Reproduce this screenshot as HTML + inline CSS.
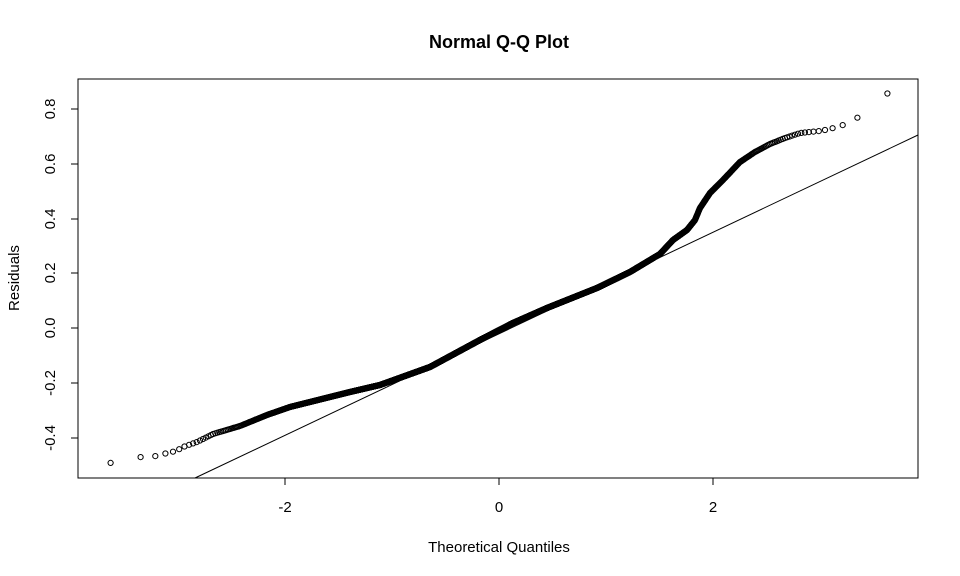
<!DOCTYPE html>
<html><head><meta charset="utf-8"><style>
html,body{margin:0;padding:0;background:#fff;}
svg{display:block;font-family:"Liberation Sans",Arial,sans-serif;}
</style></head><body>
<svg id="s" width="960" height="576" xmlns="http://www.w3.org/2000/svg">
<rect width="960" height="576" fill="#fff"/>
<text x="499" y="48" text-anchor="middle" font-size="18" font-weight="bold">Normal Q-Q Plot</text>
<rect x="78" y="79" width="840" height="399" fill="none" stroke="#000" stroke-width="1"/>
<g stroke="#000">
<line x1="285" y1="478" x2="285" y2="485"/><line x1="499" y1="478" x2="499" y2="485"/><line x1="713" y1="478" x2="713" y2="485"/>
<line x1="71" y1="109" x2="78" y2="109"/><line x1="71" y1="164" x2="78" y2="164"/><line x1="71" y1="219" x2="78" y2="219"/><line x1="71" y1="273" x2="78" y2="273"/><line x1="71" y1="328" x2="78" y2="328"/><line x1="71" y1="383" x2="78" y2="383"/><line x1="71" y1="438" x2="78" y2="438"/>
</g>
<g font-size="15" text-anchor="middle">
<text x="285" y="512">-2</text><text x="499" y="512">0</text><text x="713" y="512">2</text>
<text x="499" y="552">Theoretical Quantiles</text>
<text transform="translate(19,278) rotate(-90)">Residuals</text>
<text transform="translate(55,109) rotate(-90)">0.8</text>
<text transform="translate(55,164) rotate(-90)">0.6</text>
<text transform="translate(55,219) rotate(-90)">0.4</text>
<text transform="translate(55,273) rotate(-90)">0.2</text>
<text transform="translate(55,328) rotate(-90)">0.0</text>
<text transform="translate(55,383) rotate(-90)">-0.2</text>
<text transform="translate(55,438) rotate(-90)">-0.4</text>
</g>
<line x1="195" y1="478" x2="918" y2="135" stroke="#000" stroke-width="1"/>
<g id="pts" fill="none" stroke="#000" stroke-width="1"></g>
</svg>
<script>
function qnorm(p){var a=[-39.69683028665376,220.9460984245205,-275.9285104469687,138.357751867269,-30.66479806614716,2.506628277459239],b=[-54.47609879822406,161.5858368580409,-155.6989798598866,66.80131188771972,-13.28068155288572],c=[-0.007784894002430293,-0.3223964580411365,-2.400758277161838,-2.549732539343734,4.374664141464968,2.938163982698783],d=[0.007784695709041462,0.3224671290700398,2.445134137142996,3.754408661907416],pl=0.02425,q,r;
if(p<pl){q=Math.sqrt(-2*Math.log(p));return(((((c[0]*q+c[1])*q+c[2])*q+c[3])*q+c[4])*q+c[5])/((((d[0]*q+d[1])*q+d[2])*q+d[3])*q+1);}
if(p>1-pl){q=Math.sqrt(-2*Math.log(1-p));return-(((((c[0]*q+c[1])*q+c[2])*q+c[3])*q+c[4])*q+c[5])/((((d[0]*q+d[1])*q+d[2])*q+d[3])*q+1);}
q=p-0.5;r=q*q;return(((((a[0]*r+a[1])*r+a[2])*r+a[3])*r+a[4])*r+a[5])*q/(((((b[0]*r+b[1])*r+b[2])*r+b[3])*r+b[4])*r+1);}
var T=[[100,464],[110,463],[141,457],[157,456],[167,453],[176,451],[183,447],[197,442],[213,434],[240,426],[267,415],[290,407],[350,392],[380,385],[430,367],[480,340],[513,323],[547,308],[597,288],[630,272],[660,254],[673,240],[687,230],[695,220],[700,208],[710,193],[723,180],[740,162],[755,152],[770,144],[785,138],[800,133],[820,131],[830,129],[843,125],[857,118],[888,93],[900,85]];
function yv(x){for(var i=0;i<T.length-1;i++){if(x<=T[i+1][0]){var t=(x-T[i][0])/(T[i+1][0]-T[i][0]);return T[i][1]+t*(T[i+1][1]-T[i][1]);}}return T[T.length-1][1];}
var n=5000,s='',qmax=qnorm((n-0.5)/n);
for(var i=1;i<=n;i++){var q=qnorm((i-0.5)/n)*3.63/qmax;var x=499+107*q;s+='<circle cx="'+x.toFixed(1)+'" cy="'+yv(x).toFixed(1)+'" r="2.6"/>';}
document.getElementById('pts').innerHTML=s;
</script>
</body></html>
